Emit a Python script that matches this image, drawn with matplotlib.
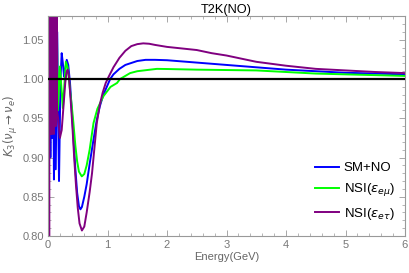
import numpy as np
import matplotlib
matplotlib.use("Agg")
import matplotlib.pyplot as plt
from matplotlib.ticker import MultipleLocator

plt.rcParams['font.family'] = ['Liberation Sans', 'DejaVu Sans']

# (E in GeV)
# fast oscillations near E=0 are given as alternating low / high samples
purple_fast_E = [i * 0.005 for i in range(31)]
purple_fast_K = [0.78, 1.10, 0.78, 1.10, 0.78, 1.10, 0.93, 1.10, 0.94, 1.10,
                 0.93, 1.10, 0.95, 1.10, 0.93, 1.10, 0.94, 1.10, 0.95, 1.10,
                 0.93, 1.10, 0.94, 1.10, 0.95, 1.10, 0.94, 1.10, 0.95, 1.10, 0.96]
purple_E = [0.17, 0.20, 0.23, 0.26, 0.29, 0.31, 0.33, 0.35, 0.38, 0.41, 0.44,
            0.47, 0.50, 0.53, 0.57, 0.61, 0.65, 0.70, 0.74, 0.78, 0.82, 0.87,
            0.92, 0.97, 1.02, 1.1, 1.2, 1.3, 1.4, 1.5, 1.6, 1.7, 1.8, 2.0,
            2.25, 2.5, 2.75, 3.0, 3.5, 4.0, 4.5, 5.0, 5.5, 6.0]
purple_K = [0.95, 0.925, 0.935, 0.965, 0.995, 1.008, 1.012, 1.005, 0.974, 0.94,
            0.90, 0.865, 0.836, 0.816, 0.807, 0.812, 0.83, 0.856, 0.88, 0.912,
            0.944, 0.967, 0.983, 0.995, 1.003, 1.015, 1.027, 1.036, 1.042,
            1.0445, 1.0455, 1.045, 1.0435, 1.041, 1.039, 1.037, 1.033, 1.030,
            1.022, 1.017, 1.013, 1.011, 1.009, 1.0076]

blue_fast_E = [0.0, 0.01, 0.02, 0.03, 0.04, 0.05, 0.06]
blue_fast_K = [0.90, 1.09, 0.90, 1.09, 0.90, 1.09, 0.95]
blue_E = [0.07, 0.085, 0.10, 0.115, 0.13, 0.155, 0.185, 0.21, 0.23, 0.25, 0.27,
          0.29, 0.315, 0.34, 0.37, 0.40, 0.43, 0.46, 0.49, 0.52, 0.545, 0.57,
          0.61, 0.65, 0.70, 0.765, 0.82, 0.87, 0.93, 1.045, 1.1, 1.2, 1.3,
          1.38, 1.5, 1.64, 1.8, 2.0, 2.5, 3.0, 3.5, 4.0, 4.5, 5.0, 5.5, 6.0]
blue_K = [0.925, 1.08, 0.872, 1.07, 0.885, 1.06, 0.870, 1.0, 1.033, 1.02, 1.003,
          1.013, 1.0245, 1.018, 0.995, 0.96, 0.922, 0.885, 0.855, 0.838, 0.834,
          0.837, 0.85, 0.866, 0.892, 0.923, 0.948, 0.965, 0.980, 1.0, 1.006,
          1.013, 1.018, 1.020, 1.023, 1.0245, 1.0245, 1.024, 1.021, 1.018,
          1.015, 1.012, 1.010, 1.008, 1.007, 1.006]

green_fast_E = [0.0, 0.015, 0.03, 0.045, 0.06, 0.075, 0.09, 0.105, 0.12, 0.135]
green_fast_K = [0.95, 1.09, 0.95, 1.09, 0.95, 1.09, 0.95, 1.09, 0.95, 1.09]
green_E = [0.15, 0.165, 0.2, 0.25, 0.30, 0.33, 0.37, 0.40, 0.427, 0.46, 0.49,
           0.52, 0.568, 0.61, 0.65, 0.70, 0.765, 0.83, 0.93, 1.05, 1.16, 1.21,
           1.38, 1.5, 1.83, 2.0, 2.5, 3.0, 3.5, 4.0, 4.5, 5.0, 5.5, 6.0]
green_K = [1.065, 0.96, 1.016, 0.963, 1.022, 1.015, 0.986, 0.965, 0.944, 0.915,
           0.895, 0.882, 0.876, 0.879, 0.89, 0.91, 0.944, 0.962, 0.978, 0.99,
           0.995, 1.0, 1.0076, 1.010, 1.013, 1.0128, 1.012, 1.0115, 1.011,
           1.009, 1.007, 1.006, 1.005, 1.004]

ref_E = [0.0, 6.0]
ref_K = [1.0, 1.0]

fig = plt.figure(figsize=(4.09, 2.73), dpi=100)
ax = fig.add_axes([48/409, 1-236/273, 357/409, 220.5/273])

lw = 1.4
ax.plot(blue_fast_E + blue_E, blue_fast_K + blue_K, color='#0000ff', lw=lw,
        label='SM+NO', zorder=2)
ax.plot(green_fast_E + green_E, green_fast_K + green_K, color='#00ff00', lw=lw,
        label=r'NSI($\epsilon_{e\mu}$)', zorder=2.1)
ax.plot(purple_fast_E + purple_E, purple_fast_K + purple_K, color='#800080',
        lw=lw, label=r'NSI($\epsilon_{e\tau}$)', zorder=2.2)
ax.plot(ref_E, ref_K, color='black', lw=1.6, zorder=3)

ax.set_xlim(0, 6)
ax.set_ylim(0.80, 1.081)
ax.xaxis.set_major_locator(MultipleLocator(1))
ax.xaxis.set_minor_locator(MultipleLocator(0.2))
ax.yaxis.set_major_locator(MultipleLocator(0.05))
ax.yaxis.set_minor_locator(MultipleLocator(0.01))
ax.yaxis.set_major_formatter(plt.FormatStrFormatter('%.2f'))
ax.tick_params(which='both', direction='in', top=True, right=True,
               color='#999999', labelcolor='#777777', labelsize=8)
ax.tick_params(which='major', length=4, width=0.6, pad=3)
ax.tick_params(which='minor', length=2, width=0.5)
for s in ax.spines.values():
    s.set_color('#999999')
    s.set_linewidth(0.8)

ax.set_title('T2K(NO)', fontsize=9.2, pad=2)
ax.set_xlabel('Energy(GeV)', fontsize=8, color='#666666', labelpad=1)
ax.set_ylabel(r'$K_3(\nu_\mu \rightarrow \nu_e)$', fontsize=8.5,
              color='#666666', labelpad=2)

ax.legend(loc='lower right', bbox_to_anchor=(0.972, 0.065), frameon=False,
          fontsize=9.5, handlelength=1.75, labelspacing=0.55,
          handletextpad=0.4, borderpad=0, borderaxespad=0)

fig.savefig('out.png', dpi=100)
